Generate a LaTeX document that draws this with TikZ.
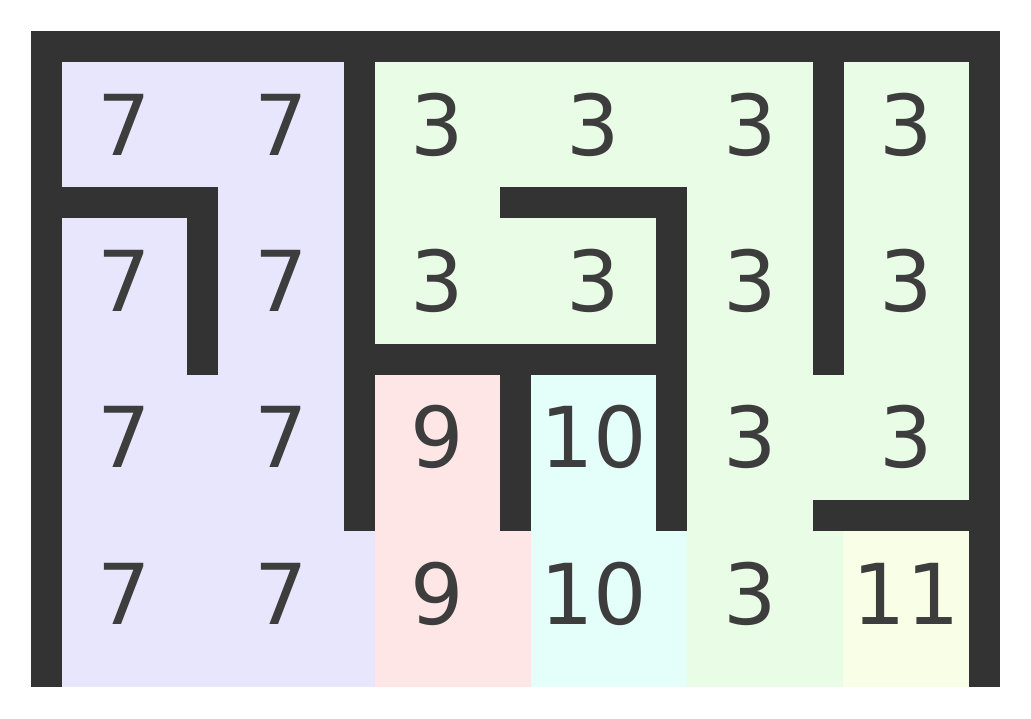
\documentclass[tikz,border=0pt]{standalone}
\usepackage{fontspec}
\setmainfont{DejaVu Sans}
\definecolor{lav}{HTML}{E8E6FC}
\definecolor{grn}{HTML}{E8FCE6}
\definecolor{pnk}{HTML}{FFE6E6}
\definecolor{cyn}{HTML}{E4FFFA}
\definecolor{ylw}{HTML}{F8FFE6}
\definecolor{wallc}{HTML}{333333}
\definecolor{txtc}{HTML}{3D3D3D}
\begin{document}
\begin{tikzpicture}[x=1pt,y=-1pt]
\useasboundingbox (0,0) rectangle (1031,719);
\begin{scope}[shift={(62pt,-62pt)},x=156.3pt,y=-156.3pt]
  \fill[lav] (0,0) rectangle (2,4);
  \fill[grn] (2,0) -- (6,0) -- (6,3) -- (5,3) -- (5,4) -- (4,4) -- (4,2) -- (2,2) -- cycle;
  \fill[pnk] (2,2) rectangle (3,4);
  \fill[cyn] (3,2) rectangle (4,4);
  \fill[ylw] (5,3) rectangle (6,4);
\end{scope}
\begin{scope}[shift={(46.5pt,-46.5pt)},x=156.3pt,y=-156.3pt,
  wall/.style={draw=wallc,line width=31pt,line cap=rect},
  num/.style={text=txtc,inner sep=0pt,font=\fontsize{84}{84}\selectfont}]
  \draw[wall] (0,0) -- (6,0);
  \draw[wall] (0,0) -- (0,4);
  \draw[wall] (6,0) -- (6,4);
  \draw[wall] (0,1) -- (1,1);
  \draw[wall] (1,1) -- (1,2);
  \draw[wall] (2,0) -- (2,3);
  \draw[wall] (2,2) -- (4,2);
  \draw[wall] (3,1) -- (4,1);
  \draw[wall] (4,1) -- (4,3);
  \draw[wall] (3,2) -- (3,3);
  \draw[wall] (5,0) -- (5,2);
  \draw[wall] (5,3) -- (6,3);
  \foreach \r/\row in {0/{7,7,3,3,3,3},1/{7,7,3,3,3,3},2/{7,7,9,10,3,3},3/{7,7,9,10,3,11}}{
    \foreach \v [count=\c from 0] in \row {
      \node[num] (n\r\c) at (\c+0.5,\r+0.5) {\v};
    }
  }
\end{scope}
\end{tikzpicture}
\end{document}
